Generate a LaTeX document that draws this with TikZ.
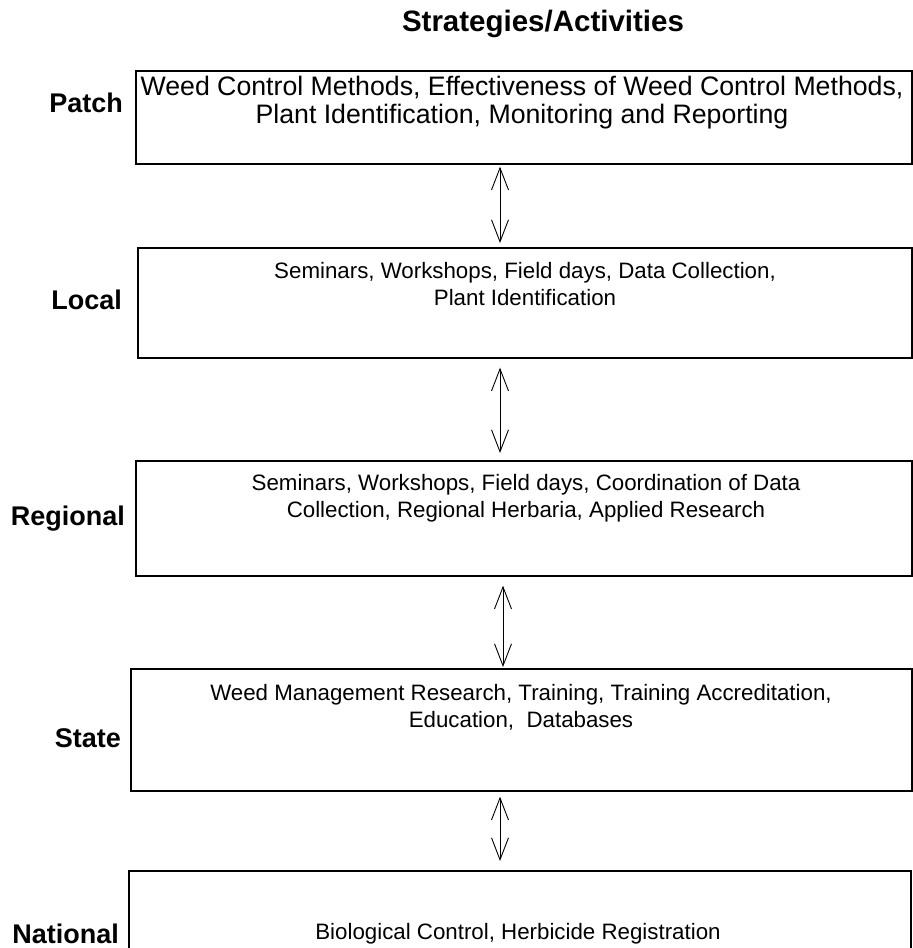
\documentclass[tikz,border=0pt]{standalone}
\usepackage{fontspec}
\setmainfont{Liberation Sans}
\usetikzlibrary{arrows.meta,calc}
\begin{document}
\begin{tikzpicture}[x=1pt,y=-1pt,
  level/.style={font=\bfseries\fontsize{27}{30}\selectfont, anchor=east, inner sep=0pt},
  heading/.style={font=\bfseries\fontsize{29.5}{32}\selectfont, inner sep=0pt},
  boxtext/.style={font=\fontsize{22.3}{27}\selectfont, align=center, inner sep=0pt},
  bigtext/.style={font=\fontsize{26.7}{28}\selectfont, align=center, inner sep=0pt},
  panel/.style={draw, line width=1.7pt, inner sep=0pt, anchor=north west},
  link/.style={line width=0.9pt,
    {Straight Barb[length=22pt,width=17pt,line width=0.9pt]}-{Straight Barb[length=22pt,width=17pt,line width=0.9pt]}}]
\clip (0,0) rectangle (913,948);
\fill[white] (0,0) rectangle (913,948);

% column heading
\node[heading] (title) at (543,24) {Strategies/Activities};

% boxes, one per level
\node[panel, minimum width=776pt, minimum height=93pt]  (patch)    at (135,70)  {};
\node[panel, minimum width=774pt, minimum height=110pt] (local)    at (137,247) {};
\node[panel, minimum width=776pt, minimum height=115pt] (regional) at (135,460) {};
\node[panel, minimum width=781pt, minimum height=122pt] (state)    at (130,668) {};
\node[panel, minimum width=782pt, minimum height=130pt] (national) at (128,870) {};

% level names
\node[level] (lpatch)    at (123,103) {Patch};
\node[level] (llocal)    at (122,300) {Local};
\node[level] (lregional) at (125,519) {Regional};
\node[level] (lstate)    at (121,738) {State};
\node[level] (lnational) at (119,934) {National};

% activities at each level
\node[bigtext] (tpatch) at (522,103)
  {Weed Control Methods, Effectiveness of Weed Control Methods,\\Plant Identification, Monitoring and Reporting};
\node[boxtext] (tlocal) at (525,284)
  {Seminars, Workshops, Field days, Data Collection,\\Plant Identification};
\node[boxtext] (tregional) at (526,498)
  {Seminars, Workshops, Field days, Coordination of Data\\Collection, Regional Herbaria, Applied Research};
\node[boxtext] (tstate) at (521,707)
  {Weed Management Research, Training, Training Accreditation,\\Education,\ \ Databases};
\node[boxtext] (tnational) at (518,934)
  {Biological Control, Herbicide Registration};

% two-way links between neighbouring levels
\coordinate (ax) at (500,0);
\coordinate (bx) at (503,0);
\draw[link, shorten <=2pt, shorten >=4pt] (patch.south -| ax) -- (local.north -| ax);
\draw[link, shorten <=9pt, shorten >=7pt] (local.south -| ax) -- (regional.north -| ax);
\draw[link, shorten <=9pt, shorten >=1pt] (regional.south -| bx) -- (state.north -| bx);
\draw[link, shorten <=5pt, shorten >=9pt] (state.south -| ax) -- (national.north -| ax);
\end{tikzpicture}
\end{document}
